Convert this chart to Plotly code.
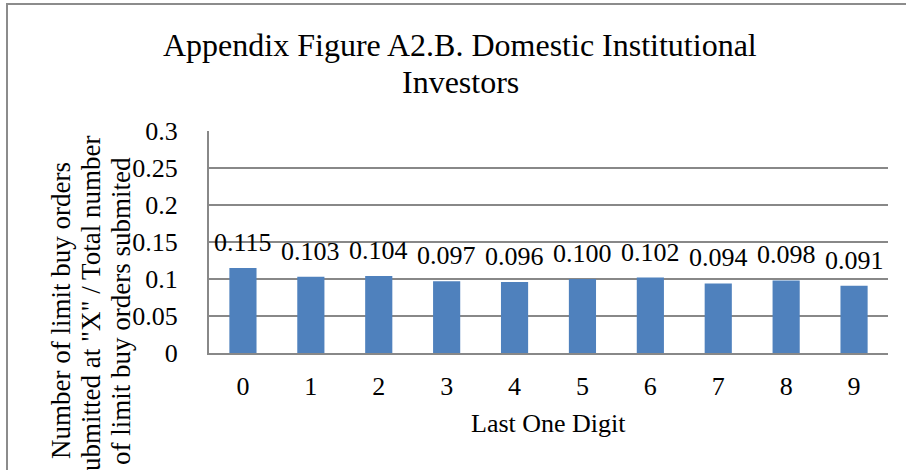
import plotly.graph_objects as go

digits = ["0", "1", "2", "3", "4", "5", "6", "7", "8", "9"]
shares = [0.115, 0.103, 0.104, 0.097, 0.096, 0.100, 0.102, 0.094, 0.098, 0.091]
value_labels = ["0.115", "0.103", "0.104", "0.097", "0.096", "0.100", "0.102", "0.094", "0.098", "0.091"]
y_ticks = [0, 0.05, 0.1, 0.15, 0.2, 0.25, 0.3]
y_tick_labels = ["0", "0.05", "0.1", "0.15", "0.2", "0.25", "0.3"]
title_lines = ["Appendix Figure A2.B. Domestic Institutional", "Investors"]
y_title_lines = ["Number of limit buy orders",
                 "Submitted at \"X\" / Total number",
                 "of limit buy orders submited"]
x_title = "Last One Digit"

W, H = 906, 470
L, R, T, B = 209, 18, 131, 117
PW, PH = W - L - R, H - T - B
FONT = "Liberation Serif, Times New Roman, serif"
GRID = "#888888"


def px(x):
    return (x - L) / PW


def py(y):
    return (H - B - y) / PH


fig = go.Figure()
fig.add_trace(go.Bar(
    x=digits, y=shares, marker=dict(color="#4F81BD", line=dict(width=0)),
    width=0.4, hoverinfo="skip",
))

annotations = []
for d, v, lab in zip(digits, shares, value_labels):
    annotations.append(dict(x=d, y=v, xref="x", yref="y", text=lab, showarrow=False,
                            yanchor="bottom", xanchor="center", yshift=9,
                            font=dict(family=FONT, size=26, color="black")))

for line, yy in zip(title_lines, [45, 82]):
    annotations.append(dict(x=px(460), y=py(yy), xref="paper", yref="paper", text=line,
                            showarrow=False, xanchor="center", yanchor="middle",
                            font=dict(family=FONT, size=32, color="black")))

for line, xx in zip(y_title_lines, [61, 91, 121]):
    annotations.append(dict(x=px(xx), y=py(311), xref="paper", yref="paper", text=line,
                            showarrow=False, xanchor="center", yanchor="middle", textangle=-90,
                            font=dict(family=FONT, size=27, color="black")))

annotations.append(dict(x=px(548.5), y=py(423), xref="paper", yref="paper", text=x_title,
                        showarrow=False, xanchor="center", yanchor="middle",
                        font=dict(family=FONT, size=26, color="black")))

fig.update_layout(
    width=W, height=H,
    margin=dict(l=L, r=R, t=T, b=B, pad=0),
    paper_bgcolor="white", plot_bgcolor="white",
    showlegend=False,
    font=dict(family=FONT, size=26, color="black"),
    annotations=annotations,
    shapes=[dict(type="rect", xref="paper", yref="paper",
                 x0=px(7), x1=px(930), y0=py(500), y1=py(4),
                 line=dict(color="#8c8c8c", width=2), fillcolor="rgba(0,0,0,0)", layer="below")],
    xaxis=dict(
        type="category", showgrid=False, showline=True, linecolor=GRID, linewidth=2,
        ticks="", tickfont=dict(family=FONT, size=26, color="black"),
        ticklabelstandoff=9, zeroline=False, fixedrange=True,
    ),
    yaxis=dict(
        range=[0, 0.3], tickvals=y_ticks, ticktext=y_tick_labels,
        showgrid=True, gridcolor=GRID, gridwidth=2,
        showline=True, linecolor=GRID, linewidth=2, zeroline=False,
        ticks="", tickfont=dict(family=FONT, size=26, color="black"),
        ticklabelstandoff=24, fixedrange=True,
    ),
)

fig.write_html(
    "out.html",
    config={"displayModeBar": False, "staticPlot": True},
    post_script="document.body.style.margin='0';document.body.style.overflow='hidden';",
)
